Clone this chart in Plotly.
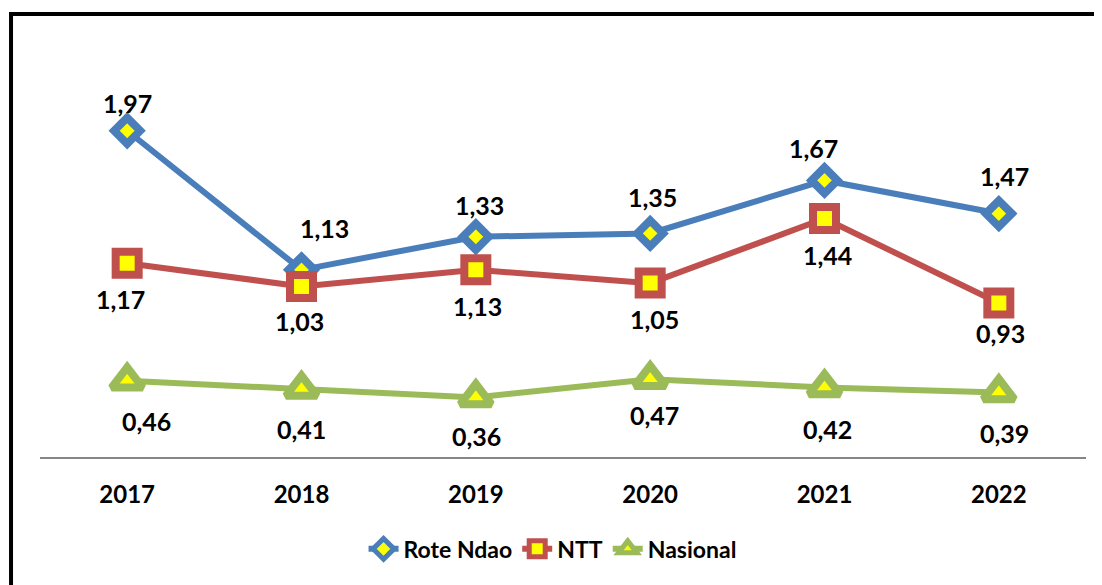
import plotly.graph_objects as go

# data
years = ["2017", "2018", "2019", "2020", "2021", "2022"]
rote_ndao = [1.97, 1.13, 1.33, 1.35, 1.67, 1.47]
ntt = [1.17, 1.03, 1.13, 1.05, 1.44, 0.93]
nasional = [0.46, 0.41, 0.36, 0.47, 0.42, 0.39]

# label offsets (px) to mimic the excel placement
rote_off = [(0, 28), (23, 42), (4, 32), (2, 36), (-11, 32), (6, 38)]
ntt_off = [(-7, -36), (-2, -35), (2, -36), (4, -36), (3, -36), (2, -30)]
nas_off = [(19, -40), (0, -40), (1, -39), (4, -36), (3, -42), (6, -41)]

FONT = "Lato"
blue = "rgb(74,126,187)"
red = "rgb(192,80,77)"
green = "rgb(155,187,89)"
yellow = "rgb(255,255,0)"

fig = go.Figure()

series = [
    ("Rote Ndao", rote_ndao, blue, "diamond", 20, rote_off),
    ("NTT", ntt, red, "square", 23, ntt_off),
    ("Nasional", nasional, green, "triangle-up", 27, nas_off),
]

for name, vals, col, sym, sz, offs in series:
    fig.add_trace(go.Scatter(
        x=years, y=vals, name=name, mode="lines+markers",
        line=dict(color=col, width=6),
        marker=dict(symbol=sym, size=sz, color=yellow,
                    line=dict(color=col, width=8)),
        cliponaxis=False,
    ))
    # data labels (category index used as x position)
    for i, (v, (dx, dy)) in enumerate(zip(vals, offs)):
        fig.add_annotation(
            x=i, y=v, xref="x", yref="y",
            text=f"{v:.2f}".replace(".", ","), showarrow=False,
            xshift=dx, yshift=dy,
            font=dict(family=FONT, size=25, color="black", weight="bold"),
        )

# page body has an 8px margin, so the figure is a bit smaller and shifted
fig.update_layout(
    width=1094, height=577,
    margin=dict(l=32, r=16, t=35, b=128),
    paper_bgcolor="white", plot_bgcolor="white",
    showlegend=True,
    legend=dict(orientation="h", x=0.49, xanchor="center", y=-0.222, yanchor="middle",
                font=dict(family=FONT, size=23, color="black", weight="bold"),
                tracegroupgap=0),
    shapes=[dict(type="rect", xref="paper", yref="paper",
                 x0=-0.0277, x1=1.03, y0=-0.4, y1=1.07,
                 line=dict(color="black", width=4))],
)

fig.update_xaxes(
    type="category",
    showgrid=False, showline=True, linecolor="rgb(134,134,134)", linewidth=2,
    ticks="", ticklabelstandoff=15, range=[-0.5, 5.5],
    tickfont=dict(family=FONT, size=24, color="black", weight="bold"),
)
fig.update_yaxes(range=[0, 2.5], showticklabels=False, showgrid=False,
                 zeroline=False, showline=False)

fig.write_html("out.html")
